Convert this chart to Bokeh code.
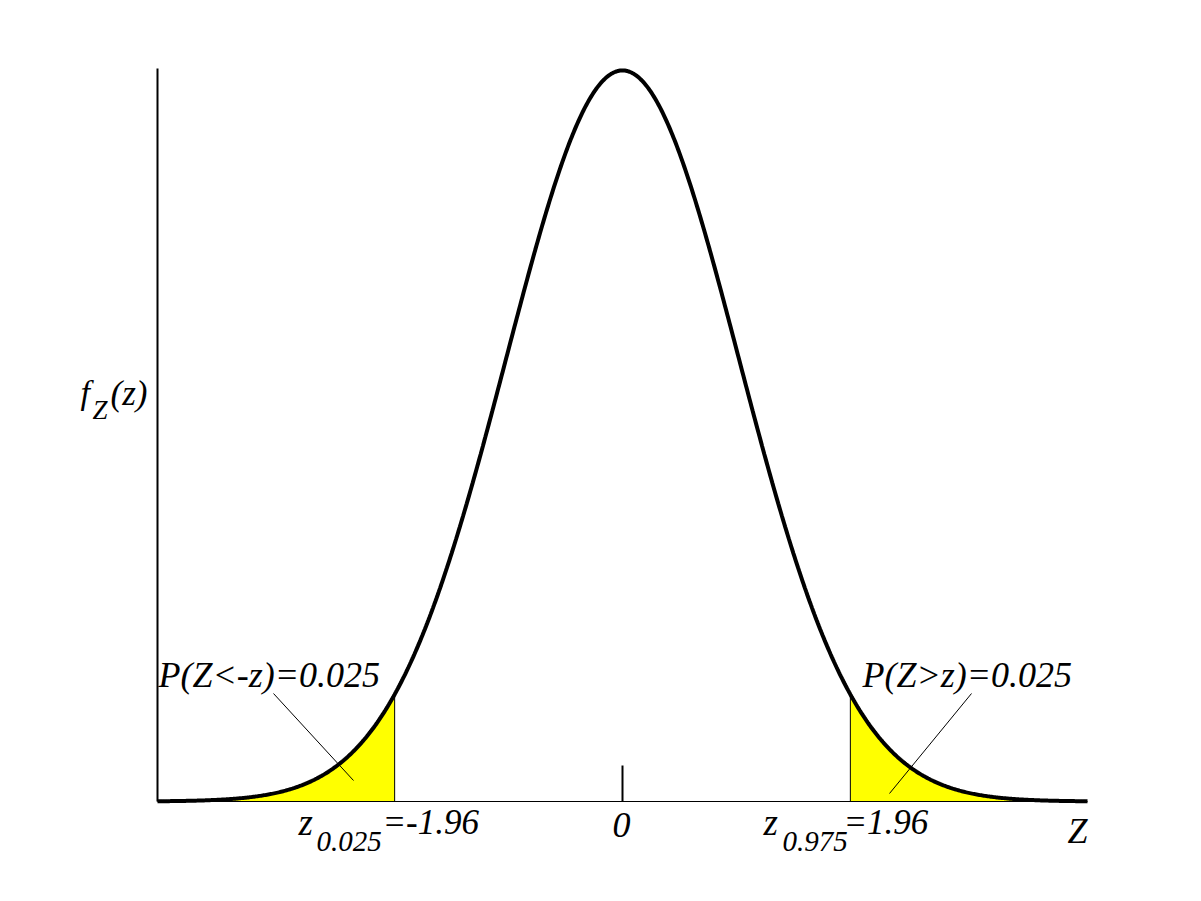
import numpy as np
from bokeh.plotting import figure
from bokeh.models import Range1d
from bokeh.core.properties import value
from bokeh.embed import file_html
from bokeh.resources import INLINE

# ---- data ----
mu = 0.0
sigma = 1.0
z_min, z_max = -4.0, 4.0
z_crit = 1.96
tail_prob = 0.025
tick_values = [0]
tick_labels = ["0"]

z = np.linspace(z_min, z_max, 801)
pdf = np.exp(-0.5 * ((z - mu) / sigma) ** 2) / (sigma * np.sqrt(2 * np.pi))

# ---- layout scale (pixels per data unit) ----
W, H = 1185, 885
px_x = 116.25          # px per z unit
px_y = 1832.5          # px per density unit
left_px = 157          # position of z_min within figure
base_px = 801          # baseline (y=0) within figure
cx = left_px + 4 * px_x  # pixel of z=0

x0 = z_min - left_px / px_x
x1 = x0 + W / px_x
y1 = base_px / px_y
y0 = y1 - H / px_y

p = figure(width=W, height=H, output_backend="svg", toolbar_location=None,
           x_range=Range1d(x0, x1), y_range=Range1d(y0, y1),
           x_axis_type=None, y_axis_type=None, min_border=0)
p.outline_line_color = None
p.grid.visible = False
p.background_fill_color = "white"
p.border_fill_color = "white"

FONT = value("Liberation Serif")

# tails
lm = z <= -z_crit
rm = z >= z_crit
p.varea(x=z[lm], y1=np.zeros(lm.sum()), y2=pdf[lm], fill_color="#FFFF00")
p.varea(x=z[rm], y1=np.zeros(rm.sum()), y2=pdf[rm], fill_color="#FFFF00")
pc = np.exp(-0.5 * z_crit ** 2) / np.sqrt(2 * np.pi)
p.segment(x0=[-z_crit, z_crit], y0=[0, 0], x1=[-z_crit, z_crit], y1=[pc, pc],
          line_color="black", line_width=1)

# axes
p.segment(x0=[z_min], y0=[0], x1=[z_min], y1=[0.4], line_color="black", line_width=2)
p.segment(x0=[z_min], y0=[0], x1=[z_max], y1=[0], line_color="black", line_width=1.2)
p.segment(x0=tick_values, y0=[0], x1=tick_values, y1=[36 / px_y], line_color="black", line_width=2)

# curve
p.line(z, pdf, line_color="black", line_width=4)


def X(px):
    return (px - cx) / px_x


def Y(py):
    return (base_px - py) / px_y


# leader lines
p.segment(x0=[X(273), X(971)], y0=[Y(693), Y(693)],
          x1=[X(353), X(889)], y1=[Y(780), Y(793)],
          line_color="black", line_width=1)

DY = 12  # baseline correction


def txt(px, py, s, size, align="left"):
    p.text(x=[X(px)], y=[Y(py - DY)], text=[s],
           text_font=FONT, text_font_style="italic", text_font_size=f"{size}px",
           text_align=align, text_baseline="alphabetic", text_color="black")


# probability labels
txt(158, 686, f"P(Z<-z)={tail_prob}", 36)
txt(862, 686, f"P(Z>z)={tail_prob}", 36)

# critical value labels
txt(298, 834, "z", 37)
txt(316, 853, "0.025", 29)
txt(382, 834, f"=-{z_crit}", 35)
txt(763, 834, "z", 37)
txt(782, 853, "0.975", 29)
txt(843, 834, f"={z_crit}", 35)

# zero tick label and axis label
txt(621, 836, tick_labels[0], 36, "center")
txt(1087, 842, "Z", 36, "right")

# y-axis label f_Z(z)
txt(80, 404, "f", 34)
txt(92, 421, "Z", 27)
txt(110, 405, "(z)", 35)

open("out.html", "w").write(file_html(p, INLINE))
